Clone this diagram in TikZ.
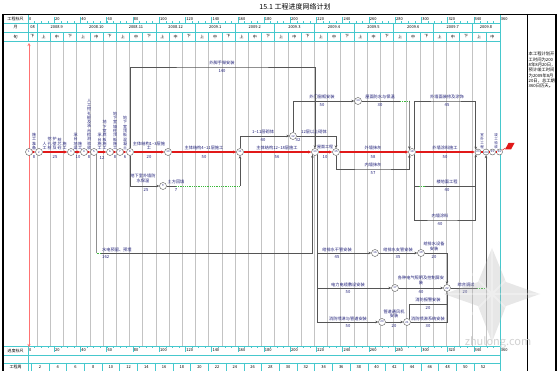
\documentclass[tikz,border=0pt]{standalone}
\usepackage{fontspec}
\setmainfont{Noto Sans CJK SC}
\usetikzlibrary{arrows.meta}
\definecolor{lblc}{RGB}{30,30,120}
\definecolor{critc}{RGB}{225,25,25}
\definecolor{gridc}{RGB}{195,195,195}
\definecolor{cyanc}{RGB}{70,200,205}
\definecolor{fltc}{RGB}{60,185,60}
\definecolor{workc}{RGB}{85,85,85}
\tikzset{
 evt/.style={circle,draw=workc,fill=white,line width=0.4pt,minimum size=7pt,inner sep=0pt,font=\fontsize{2.8}{3}\selectfont,text=lblc},
 evs/.style={evt,minimum size=6pt},
 critl/.style={draw=critc,line width=1.1pt},
 crita/.style={critl,-{Stealth[length=3.2pt,width=3pt]}},
 worka/.style={draw=workc,line width=0.5pt,-{Stealth[length=3pt,width=2.6pt]}},
 workl/.style={draw=workc,line width=0.5pt},
 fltl/.style={draw=fltc,line width=0.5pt,dash pattern=on 1pt off 0.8pt},
 lab/.style={font=\fontsize{4.2}{4.4}\selectfont,text=lblc,inner sep=0pt,align=center},
 vlab/.style={font=\fontsize{4}{4.3}\selectfont,text=lblc,inner sep=0pt,align=center,anchor=south},
 hdr/.style={font=\fontsize{4}{4.5}\selectfont,inner sep=0pt},
 gridl/.style={draw=gridc,line width=0.45pt},
 cyl/.style={draw=cyanc,line width=0.45pt},
}
\begin{document}
\begin{tikzpicture}[x=1pt,y=-1pt]
\useasboundingbox (0,0) rectangle (560,371);
\fill[white] (0,0) rectangle (560,371);

% title
\node[font=\fontsize{7}{8}\selectfont,inner sep=0pt] (title) at (295,7) {15.1 工程进度网络计划};

% vertical grid
\foreach \k in {0,...,34} \draw[gridl] ({37+13.2*\k},41) -- ({37+13.2*\k},346);

% ---------- header ----------
\draw[cyl] (3,23) -- (500,23) (3,32) -- (500,32) (3,41) -- (500,41);
\draw[cyl] (28,14) -- (28,41) (500,14) -- (500,41);
\foreach \k in {0,...,11} \draw[cyl] ({37+39.6*\k},23) -- ({37+39.6*\k},41);
\foreach \k in {0,...,34} \draw[cyl] ({37+13.2*\k},32) -- ({37+13.2*\k},41);
\foreach \k in {0,...,71} \draw[cyl,line width=0.3pt] ({28+6.555*\k},21.3) -- ({28+6.555*\k},23);
\foreach \k in {0,...,18} {
  \draw[cyl] ({28+26.22*\k},17) -- ({28+26.22*\k},23);
  \pgfmathtruncatemacro\v{20*\k}
  \node[hdr,anchor=west] (s\k) at ({28+26.22*\k+0.8},19) {\v};
}
\node[hdr] (h1) at (15.5,19) {工程标尺};
\node[hdr] (h2) at (15.5,27.5) {月};
\node[hdr] (h3) at (15.5,36.5) {旬};
\node[hdr] (m0) at (32.5,27.5) {08};
\foreach \m [count=\i from 0] in {2008.9,2008.10,2008.11,2008.12,2009.1,2009.2,2009.3,2009.4,2009.5,2009.6,2009.7}
  \node[hdr] (mm\i) at ({37+39.6*\i+19.8},27.5) {\m};
\node[hdr] (m12) at (486,27.5) {2009.8};
\node[hdr] (x0) at (32.5,36.5) {下};
\foreach \k in {0,...,34} {
  \pgfmathtruncatemacro\r{mod(\k,3)}
  \node[hdr] (xx\k) at ({37+13.2*\k+6.6},36.5) {\ifcase\r 上\or 中\or 下\fi};
}

% ---------- bottom rows ----------
\draw[cyl] (3,346) -- (500,346) (3,355) -- (500,355) (3,363) -- (500,363) (3,371) -- (500,371);
\draw[cyl] (28,346) -- (28,371) (500,346) -- (500,371);
\foreach \k in {0,...,71} \draw[cyl,line width=0.3pt] ({28+6.555*\k},346) -- ({28+6.555*\k},347.7);
\foreach \k in {0,...,18} {
  \draw[cyl] ({28+26.22*\k},346) -- ({28+26.22*\k},352);
  \pgfmathtruncatemacro\v{20*\k}
  \node[hdr,anchor=west] (b\k) at ({28+26.22*\k+0.8},350.5) {\v};
}
\foreach \k in {0,...,25} \draw[cyl] ({31.1+17.72*\k},363) -- ({31.1+17.72*\k},371);
\foreach \k in {1,...,26} {
  \pgfmathtruncatemacro\w{2*\k}
  \node[hdr] (w\k) at ({40+17.72*(\k-1)},367) {\w};
}
\node[hdr] (h4) at (15.5,350.5) {进度标尺};
\node[hdr] (h5) at (15.5,367) {工程周};

% ---------- frame ----------
\draw[line width=1.6pt] (3,14) -- (3,371);
\draw[line width=0.9pt] (3,14) -- (556,14);
\draw[line width=1pt] (527,14) -- (527,371);
\draw[line width=1.4pt] (556,14) -- (556,371);
\node[font=\fontsize{4.3}{5.3}\selectfont,inner sep=0pt,anchor=north west,align=left] (note) at (528.5,52)
 {本工程计划开\\工时间为200\\8年8月20日，\\预计竣工时间\\为2009年8月\\20日，总工期\\360日历天。};

% start / end lines
\draw[draw=red!55,line width=0.6pt,{Stealth[length=3pt,width=3pt]}-{Stealth[length=3pt,width=3pt]}] (29,43) -- (29,347);
\draw[cyl,line width=0.6pt] (500,41) -- (500,346);

% ---------- events ----------
\node[evt] (n1) at (29,152) {1};
\node[evt] (n2) at (39,152) {2};
\node[evt] (n3) at (71,152) {3};
\node[evt] (n4) at (84,152) {4};
\node[evt] (n5) at (94,152) {5};
\node[evt] (n6) at (110,152) {6};
\node[evt] (n7) at (120,152) {7};
\node[evt] (n8) at (130,152) {8};
\node[evt] (n9) at (163,186) {9};
\node[evt] (n10) at (168,152) {10};
\node[evt] (n11) at (240,152) {11};
\node[evt] (n12) at (293,136) {12};
\node[evt] (n13) at (358,101) {14};
\node[evt] (n14) at (315,152) {13};
\node[evt] (n15) at (336,152) {15};
\node[evt] (n16) at (412,152) {18};
\node[evt] (nA) at (375,253) {16};
\node[evt] (nB) at (421,253) {19};
\node[evt] (nC) at (395,288) {17};
\node[evt] (nE) at (447,288) {22};
\node[evt] (nD) at (382,322) {20};
\node[evt] (nF) at (407,322) {21};
\node[evs] (n23) at (478,152) {23};
\node[evs] (n24) at (486,152) {24};
\node[evs] (n25) at (492.5,152) {25};
\node[evs] (n26) at (499.5,152) {26};

% coordinates
\coordinate (c9a) at (176,186);
\coordinate (c9b) at (240,186);
\coordinate (c8a) at (222,67);
\coordinate (c13a) at (400,101);
\coordinate (c13b) at (409.5,101);
\coordinate (c16a) at (447,101);
\coordinate (c15a) at (373,169);
\coordinate (c16b) at (419,186);
\coordinate (c16c) at (425,186);
\coordinate (c16d) at (475.9,186);
\coordinate (c16e) at (440,220);
\coordinate (c5a) at (96.5,253);
\coordinate (c5b) at (101,253);
\coordinate (c21a) at (447,304);
\coordinate (c22a) at (477,288);
\coordinate (c22b) at (486,288);
\coordinate (flagc) at (505.5,148);

% ---------- critical path ----------
\draw[crita] (n1) -- (n2);
\draw[crita] (n2) -- (n3);
\draw[crita] (n3) -- (n4);
\draw[crita] (n4) -- (n5);
\draw[crita] (n5) -- (n6);
\draw[crita] (n6) -- (n7);
\draw[crita] (n7) -- (n8);
\draw[crita] (n8) -- (n10);
\draw[crita] (n10) -- (n11);
\draw[crita] (n11) -- (n14);
\draw[crita] (n14) -- (n15);
\draw[crita] (n15) -- (n16);
\draw[crita] (n16) -- (n23);
\draw[critl] (n23) -- (n24);
\draw[critl] (n24) -- (n25);
\draw[critl] (n25) -- (n26);
\draw[critl,line width=0.5pt] (n26) -- (flagc);
\fill[critc] (505,149.5) -- (508.5,143) -- (514.5,143) -- (511,149.5) -- cycle;

% ---------- other activities ----------
\draw[worka] (n8.north) |- (c8a) -| (n14.north);
\draw[worka] (n8.south) |- (n9);
\draw[workl] (n9) -- (c9a);
\draw[fltl] (c9a) -- (c9b);
\draw[worka] (c9b) -- (n11.south);
\draw[worka] (n11.north) |- (n12);
\draw[worka] (n12) -| (n15.north);
\draw[worka] (n12.north) |- (n13);
\draw[workl] (n13) -- (c13a);
\draw[fltl] (c13a) -- (c13b);
\draw[worka] (c13b) -- (n16.north west);
\draw[worka] (n16.north east) |- (c16a) -| (n23.north west);
\draw[worka] (n15.south) |- (c15a) -| (n16.south west);
\draw[workl] (n16.south east) |- (c16b);
\draw[fltl] (c16b) -- (c16c);
\draw[workl] (c16c) -- (c16d);
\draw[worka] (n16.south east) |- (c16e) -| (n23.south west);
\draw[workl] (n5.south east) -- (c5a);
\draw[fltl] (c5a) -- (c5b);
\draw[worka] (c5b) -| (n14.south west);
\draw[worka] (n14.south east) |- (nA);
\draw[worka] (n14.south east) |- (nC);
\draw[worka] (n14.south east) |- (nD);
\draw[worka] (nA) -- (nB);
\draw[worka] (nB) -| (nE.north);
\draw[worka] (nC) -- (nE);
\draw[worka] (nD) -- (nF);
\draw[worka] (nF) -| (nE.south);
\draw[workl] (nF.north east) |- (c21a);
\draw[workl] (nE) -- (c22a);
\draw[fltl] (c22a) -- (c22b);
\draw[worka] (c22b) -- (n24.south);

% ---------- labels: main chain ----------
\node[vlab] (v1) at (34,150) {施\\工\\准\\备};
\node[lab] (d1) at (34,157.5) {8};
\node[vlab] (v2a) at (44.5,150) {人\\工};
\node[vlab] (v2b) at (49.5,150) {挖\\孔\\桩};
\node[vlab] (v2c) at (54.5,150) {护\\壁\\及};
\node[vlab] (v2d) at (59.5,150) {桩\\芯\\砼};
\node[vlab] (v2e) at (64.5,150) {施\\工};
\node[lab] (d2) at (55,157.5) {25};
\node[vlab] (v3a) at (75.5,150) {承\\台\\地\\梁};
\node[vlab] (v3b) at (80,150) {施\\工};
\node[lab] (d3) at (78,157.5) {10};
\node[vlab] (v4) at (89,150) {人\\工\\挖\\孔\\桩\\及\\承\\台\\检\\测\\验\\收};
\node[lab] (d4) at (89,157.5) {8};
\node[vlab] (v5a) at (99.5,150) {承\\台\\施\\工};
\node[vlab] (v5b) at (104.5,150) {地\\下\\室\\底\\板\\施\\工};
\node[lab] (d5) at (102,157.5) {12};
\node[vlab] (v6) at (115,150) {地\\下\\室\\墙\\柱\\顶\\板\\施\\工};
\node[lab] (d6) at (115,157.5) {8};
\node[vlab] (v7) at (125,150) {地\\下\\室\\顶\\板\\混\\凝\\土};
\node[lab] (d7) at (125,157.5) {6};
\node[lab] (l8) at (149,146) {主体结构1\textasciitilde3层施\\工};
\node[lab] (d8) at (149,157.5) {20};
\node[lab] (l10) at (204,147.5) {主体结构4\textasciitilde11层施工};
\node[lab] (d10) at (204,157.5) {50};
\node[lab] (l11) at (277,147.5) {主体结构12\textasciitilde18层施工};
\node[lab] (d11) at (277,157.5) {56};
\node[lab,font=\fontsize{4}{4.3}\selectfont] (l14) at (325,147.5) {屋面工程};
\node[lab] (d14) at (325,157.5) {10};
\node[lab] (l15) at (373,147.5) {外墙抹灰};
\node[lab] (d15) at (373,157.5) {58};
\node[lab] (l16) at (445,147.5) {外墙涂料施工};
\node[lab] (d16) at (445,157.5) {50};
\node[vlab,font=\fontsize{3.5}{3.9}\selectfont] (v23) at (482,149) {室\\外\\工\\程};
\node[vlab,font=\fontsize{3.5}{3.9}\selectfont] (v25) at (496,149) {竣\\工\\验\\收};

% ---------- labels: other activities ----------
\node[lab] (l81) at (222,63) {外脚手架安装};
\node[lab] (d81) at (222,71.5) {140};
\node[lab] (l82) at (143,178.5) {地下室外墙防\\水保温};
\node[lab] (d82) at (146,190) {25};
\node[lab] (l9) at (176,182) {土方回填};
\node[lab] (d9) at (176,190) {7};
\node[lab] (l111) at (263,131.5) {1\textasciitilde11层砌体};
\node[lab] (d111) at (263,140) {40};
\node[lab] (l121) at (314,131.5) {12层以上砌体};
\node[lab] (d121) at (298,140) {32};
\node[lab] (l122) at (322,97) {外门窗框安装};
\node[lab] (d122) at (322,105) {50};
\node[lab] (l13) at (380,97) {屋面防水与保温};
\node[lab] (d13) at (380,105) {30};
\node[lab] (l151) at (373,165) {内墙抹灰};
\node[lab] (d151) at (373,173) {57};
\node[lab] (l161) at (447,97) {外墙面装修及涂饰};
\node[lab] (d161) at (447,105) {45};
\node[lab] (l162) at (447,182) {楼地面工程};
\node[lab] (d162) at (447,190) {40};
\node[lab] (l163) at (440,216) {内墙涂料};
\node[lab] (d163) at (440,224) {40};
\node[lab,anchor=west] (l5) at (102,250) {水电预留、预埋};
\node[lab,anchor=west] (d5b) at (102,257.5) {162};
\node[lab] (lA0) at (337,249.5) {给排水干管安装};
\node[lab] (dA0) at (337,257.5) {45};
\node[lab] (lAB) at (398,249.5) {给排水支管安装};
\node[lab] (dAB) at (398,257.5) {35};
\node[lab] (lBE) at (434,246.5) {给排水设备\\安装};
\node[lab] (dBE) at (434,257.5) {20};
\node[lab] (lC0) at (348,284.5) {电力电缆敷设安装};
\node[lab] (dC0) at (348,292.5) {50};
\node[lab] (lCE) at (421,280.5) {各种电气照明及控制屏安\\装};
\node[lab] (dCE) at (421,292.5) {40};
\node[lab] (lE) at (466,284.5) {综合调试};
\node[lab] (dE) at (465,292.5) {20};
\node[lab] (lD0) at (348,318.5) {消防喷淋与管道安装};
\node[lab] (dD0) at (348,326.5) {50};
\node[lab] (lDF) at (394,314) {管道通风机\\安装};
\node[lab] (dDF) at (394,326.5) {20};
\node[lab] (lFE) at (428,318.5) {消防喷淋系统安装};
\node[lab] (dFE) at (428,326.5) {30};
\node[lab] (lF2) at (428,299.5) {消防报警安装};
\node[lab] (dF2) at (428,308) {20};

% ---------- watermark ----------
\begin{scope}[opacity=0.3]
\fill[gray!60] (492,248) -- (506,282) -- (540,294) -- (506,306) -- (492,342) -- (478,306) -- (444,294) -- (478,282) -- cycle;
\draw[white,line width=2pt] (492,248) -- (492,342) (444,294) -- (540,294) (466,268) -- (518,320) (518,268) -- (466,320);
\end{scope}
\node[font=\fontsize{11}{11}\selectfont,text=gray!35,inner sep=0pt] (wm) at (498,342) {zhulong.com};
\end{tikzpicture}
\end{document}
